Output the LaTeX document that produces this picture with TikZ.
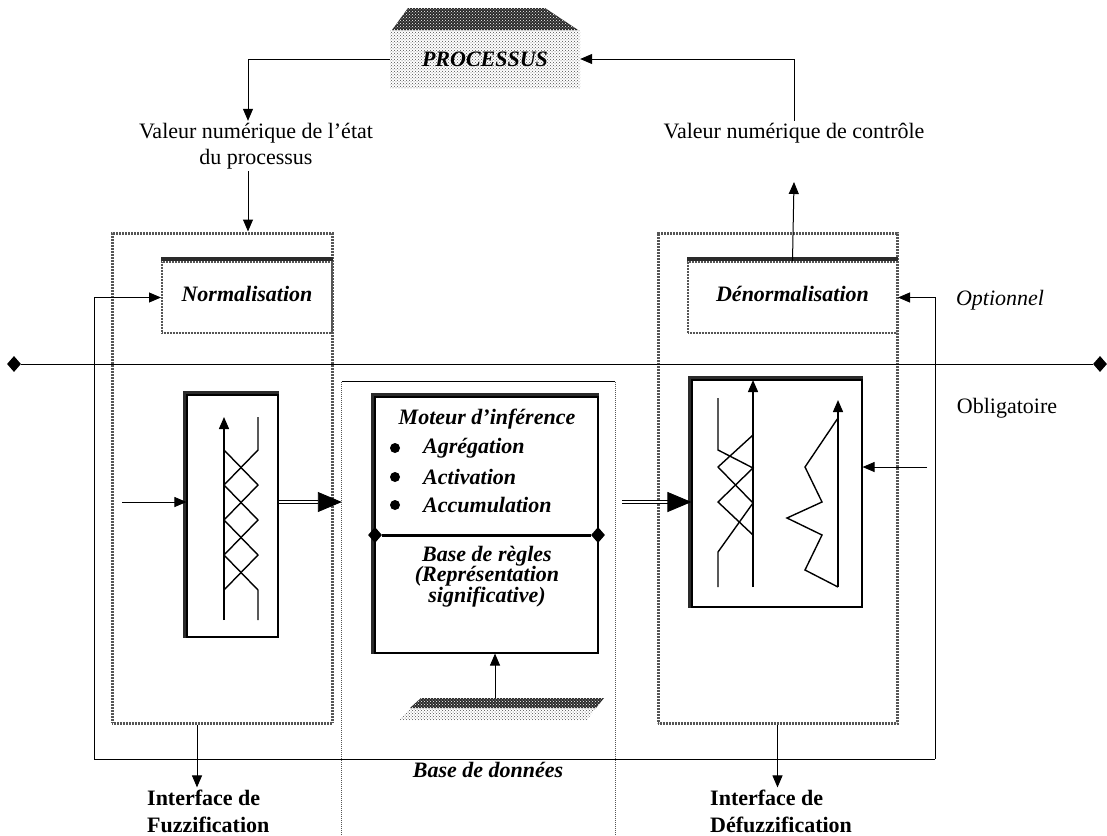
\documentclass[tikz,border=0pt]{standalone}
\usepackage{fontspec}
\setmainfont{Liberation Serif}
\usetikzlibrary{arrows.meta,positioning,shapes.geometric,patterns,calc}
\definecolor{fgray}{HTML}{555555}
\definecolor{fdark}{HTML}{2A2A2A}
\tikzset{
    arr/.style={line width=1pt, -{Triangle[length=12pt,width=10pt]}},
    dblarr/.style={double, double distance=2.5pt, line width=0.9pt, -{Triangle[length=24pt,width=20pt]}},
    outerbox/.style={draw=fgray, line width=3pt, dash pattern=on 0.9pt off 0.6pt, inner sep=0pt},
    scalebox/.style={draw=fgray, line width=2pt, dash pattern=on 0.9pt off 0.6pt, inner sep=0pt},
    mfbox/.style={draw, line width=1.1pt, fill=white, inner sep=0pt},
    heavyedge/.style={line width=3.5pt, fdark},
    sidedot/.style={draw=fgray, line width=1.2pt, dash pattern=on 1pt off 1pt},
    curve/.style={line width=1.4pt},
    diam/.style={diamond, fill, inner sep=0pt, minimum width=14pt, minimum height=16pt},
    txt/.style={font=\fontsize{22}{26}\selectfont, inner sep=2pt},
    bitxt/.style={font=\fontsize{22}{24}\selectfont\bfseries\itshape, inner sep=2pt},
    bftxt/.style={font=\fontsize{22}{27}\selectfont\bfseries, inner sep=2pt}
}

\begin{document}
\begin{tikzpicture}[x=1pt, y=-1pt]
    \useasboundingbox (0,0) rectangle (1107,835);
    % Processus
    \fill[fdark] (408,8) -- (545,8) -- (578,30) -- (392,30) -- cycle;
    \fill[pattern=crosshatch dots, pattern color=white] (408,8) -- (545,8) -- (578,30) -- (392,30) -- cycle;
    \fill[pattern=crosshatch dots, pattern color=black!70] (390,30) rectangle (580,88);
    \node[bitxt, minimum width=190pt, minimum height=58pt] (proc) at (485,59) {PROCESSUS};
    % Values
    \node[txt, align=center] (etat) at (256,146) {Valeur numérique de l’état\\du processus};
    \node[txt] (ctrl) at (794,133) {Valeur numérique de contrôle};
    \coordinate (ctrlin) at (794,182);
    \draw[arr] (proc.west) -| ([xshift=-8pt]etat.north);
    \draw[arr] (ctrl.north) |- (proc.east);
    % Fuzzification / defuzzification frames
    \node[outerbox, minimum width=220pt, minimum height=490pt] (fuzzbox) at (222,478) {};
    \node[outerbox, minimum width=239pt, minimum height=490pt] (defuzzbox) at (777.5,478) {};
    \node[scalebox, bitxt, minimum width=170pt, minimum height=71pt] (norm) at (247,297.5) {\raisebox{7pt}{Normalisation}};
    \node[scalebox, bitxt, minimum width=209pt, minimum height=71pt] (denorm) at (792.5,297.5) {\raisebox{7pt}{Dénormalisation}};
    \draw[heavyedge] ([yshift=2pt]norm.north west) -- ([yshift=2pt]norm.north east);
    \draw[heavyedge] ([yshift=2pt]denorm.north west) -- ([yshift=2pt]denorm.north east);
    \draw[arr] ([xshift=-8pt]etat.south) -- ([xshift=-8pt]etat.south |- fuzzbox.north);
    \draw[arr] (denorm.north) -- (ctrlin);
    % Optionnel / Obligatoire
    \node[diam] (dl) at (14,364) {};
    \node[diam] (dr) at (1100,364) {};
    \draw[line width=1pt] (dl) -- (dr);
    \node[txt, font=\fontsize{22}{26}\selectfont\itshape] (optl) at (1000,300) {Optionnel};
    \node[txt] (oblig) at (1007,408) {Obligatoire};
    % Inference frame
    \node[minimum width=273pt, minimum height=470pt, inner sep=0pt] (infbox) at (478.5,617) {};
    \draw[line width=1pt] (infbox.north west) -- (infbox.north east);
    \draw[sidedot] (infbox.north west) -- (infbox.south west);
    \draw[sidedot] (infbox.north east) -- (infbox.south east);
    \node[mfbox, minimum width=223pt, minimum height=256pt] (regles) at (486.5,525) {};
    \draw[heavyedge] ([xshift=-2pt]regles.south west) -- ([xshift=-2pt,yshift=2pt]regles.north west) -- ([yshift=2pt]regles.north east);
    \node[diam] (rl) at (375,535) {};
    \node[diam] (rr) at (598,535) {};
    \draw[line width=3pt] (rl) -- (rr);
    \node[bitxt] (moteur) at (487,419) {Moteur d’inférence};
    \node[bitxt, anchor=west] (agreg) at (421,448) {Agrégation};
    \node[bitxt, anchor=west] (activ) at (421,477) {Activation};
    \node[bitxt, anchor=west] (accum) at (421,505) {Accumulation};
    \foreach \y in {448,477,505} {
        \fill (395,\y) circle (5pt);
    }
    \node[bitxt, align=center, font=\fontsize{22}{20}\selectfont\bfseries\itshape] (base) at (487,577) {Base de règles\\(Représentation\\significative)};
    % Membership boxes
    \node[mfbox, minimum width=91pt, minimum height=242pt] (fuzzmf) at (232.5,516) {};
    \node[mfbox, minimum width=170pt, minimum height=227pt] (defuzzmf) at (777,493.5) {};
    \draw[heavyedge] ([xshift=-2pt]fuzzmf.south west) -- ([xshift=-2pt,yshift=2pt]fuzzmf.north west) -- ([yshift=2pt]fuzzmf.north east);
    \draw[heavyedge] ([xshift=-2pt]defuzzmf.south west) -- ([xshift=-2pt,yshift=2pt]defuzzmf.north west) -- ([yshift=2pt]defuzzmf.north east);
    % Fuzzification sets
    \draw[arr, line width=1.4pt] (224,620) -- (224,417);
    \draw[curve] (258,417) -- (258,450) -- (224,485) -- (258,520) -- (224,555) -- (258,590) -- (258,620);
    \draw[curve] (224,450) -- (258,485) -- (224,520) -- (258,555) -- (224,590);
    % Defuzzification sets
    \draw[arr, line width=1.4pt] (753,587) -- (753,380);
    \draw[curve] (718,398) -- (718,450) -- (753,468) -- (718,502) -- (753,535);
    \draw[curve] (753,435) -- (718,467) -- (753,503) -- (718,552) -- (718,587);
    \draw[curve] (838,418) -- (805,467) -- (822,502) -- (787,518) -- (822,535) -- (805,570) -- (838,587);
    \draw[arr, line width=1.4pt] (838,587) -- (838,400);
    % Flow arrows
    \coordinate (fin) at (122,502);
    \coordinate (dfin) at (927,467);
    \draw[arr] (fin) -- (fin -| fuzzmf.west);
    \draw[arr] (dfin) -- (dfin -| defuzzmf.east);
    \draw[dblarr] (fuzzmf.east |- fin) -- (fin -| infbox.west);
    \draw[dblarr] ([xshift=7pt]infbox.east |- fin) -- (fin -| defuzzmf.west);
    % Base de donnees
    \fill[fdark] (421,698) -- (604,698) -- (596,708) -- (410,708) -- cycle;
    \fill[pattern=crosshatch dots, pattern color=white] (421,698) -- (604,698) -- (596,708) -- (410,708) -- cycle;
    \fill[pattern=crosshatch dots, pattern color=black!70] (410,708) -- (596,708) -- (587,720) -- (399,720) -- cycle;
    \node[minimum width=205pt, minimum height=22pt, inner sep=0pt] (db) at (501,709) {};
    \draw[arr] ([xshift=-6pt]db.north) -- ([xshift=-6pt]db.north |- regles.south);
    % Feedback loop
    \coordinate (fbl) at (94,759);
    \coordinate (fbr) at (935,759);
    \draw[line width=1pt] (fbl) -- (fbr);
    \draw[arr] (fbl) |- (norm.west);
    \draw[arr] (fbr) |- (denorm.east);
    \node[bitxt, fill=white, minimum width=205pt] (dbtxt) at (488,770) {Base de données};
    % Interfaces
    \node[bftxt, align=left, anchor=west] (ifuzz) at (145,811) {Interface de\\Fuzzification};
    \node[bftxt, align=left, anchor=west] (idefuzz) at (708,811) {Interface de\\Défuzzification};
    \draw[arr] ([xshift=-25pt]fuzzbox.south) -- ([xshift=-25pt]fuzzbox.south |- ifuzz.north);
    \draw[arr] (defuzzbox.south) -- (defuzzbox.south |- idefuzz.north);
\end{tikzpicture}
\end{document}
